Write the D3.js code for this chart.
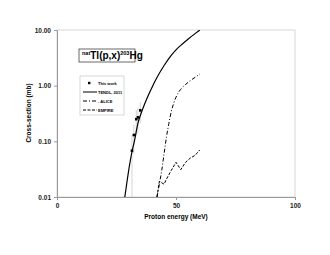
<!DOCTYPE html>
<html><head><meta charset="utf-8">
<script src="https://cdn.jsdelivr.net/npm/d3@7"></script>
<style>body{margin:0;background:#fff}svg{display:block;font-family:"Liberation Sans",Arial,sans-serif}</style>
</head><body>
<script>
const xTicks=[0,50,100];
const yTicks=[0.01,0.1,1,10];
const yTickLabels=["0.01","0.10","1.00","10.00"];
const expE=[31.5,32.3,33.3,34.0,35.0];
const expS=[0.068,0.13,0.25,0.27,0.36];
const expErr=[0.062,0.07,0.12,0.13,0.15];
const tendlE=[28.5,29.5,30.5,31.5,32.5,34,36,38,40,42,45,48,50,52,55,58,60];
const tendlS=[0.01,0.02,0.038,0.065,0.1,0.21,0.38,0.62,0.95,1.4,2.3,3.5,4.4,5.3,6.8,8.6,10];
const aliceE=[42,43,44,45,46,47,48,49,50,51,52,53,54,56,58,60];
const aliceS=[0.01,0.017,0.03,0.06,0.12,0.21,0.34,0.48,0.62,0.75,0.86,0.96,1.05,1.23,1.41,1.62];
const empireE=[42,43,45,46,48,50,52,54,56,58,60];
const empireS=[0.01,0.019,0.017,0.021,0.03,0.042,0.031,0.042,0.05,0.056,0.07];
const legendLabels=["This work","TENDL, 2011","- ALICE","EMPIRE"];

const W=330,H=255;
const svg=d3.select("body").append("svg").attr("width",W).attr("height",H);
const x=d3.scaleLinear().domain([0,100]).range([57,295]);
const y=d3.scaleLog().domain([0.01,10]).range([197,30]);

svg.append("rect").attr("x",57).attr("y",30).attr("width",238).attr("height",167)
  .attr("fill","none").attr("stroke","#d8d8d8").attr("stroke-width",1);

const xa=svg.append("g").attr("transform","translate(0,197)")
  .call(d3.axisBottom(x).tickValues(xTicks).tickSize(3).tickPadding(3).tickFormat(d3.format("d")));
const ya=svg.append("g").attr("transform","translate(57,0)")
  .call(d3.axisLeft(y).tickValues(yTicks).tickSize(3).tickPadding(3).tickFormat((d,i)=>yTickLabels[i]));
[xa,ya].forEach(g=>{
  g.selectAll("path,line").attr("stroke","#999");
  g.selectAll("text").attr("font-size","6.5px").attr("font-weight","bold").attr("fill","#222")
   .attr("font-family","'Liberation Sans',Arial,sans-serif");
});

svg.append("clipPath").attr("id","c").append("rect").attr("x",57).attr("y",30).attr("width",238).attr("height",167);
const line=d3.line().x(d=>x(d[0])).y(d=>y(d[1])).curve(d3.curveMonotoneX);
const g=svg.append("g").attr("clip-path","url(#c)");

expE.forEach((e,i)=>{
  g.append("line").attr("x1",x(e)).attr("x2",x(e)).attr("y1",y(Math.max(expS[i]-expErr[i],0.001))).attr("y2",y(expS[i]+expErr[i]))
   .attr("stroke","#bbb").attr("stroke-width",0.6);
});
g.append("path").datum(tendlE.map((e,i)=>[e,tendlS[i]])).attr("d",line)
  .attr("fill","none").attr("stroke","#000").attr("stroke-width",1.2);
g.append("path").datum(aliceE.map((e,i)=>[e,aliceS[i]])).attr("d",line)
  .attr("fill","none").attr("stroke","#000").attr("stroke-width",1).attr("stroke-dasharray","4,2,1,2");
g.append("path").datum(empireE.map((e,i)=>[e,empireS[i]])).attr("d",d3.line().x(d=>x(d[0])).y(d=>y(d[1])))
  .attr("fill","none").attr("stroke","#000").attr("stroke-width",1).attr("stroke-dasharray","3,1.5");
expE.forEach((e,i)=>{
  g.append("rect").attr("x",x(e)-1.3).attr("y",y(expS[i])-1.3).attr("width",2.6).attr("height",2.6).attr("fill","#000");
});

const tb=svg.append("g");
tb.append("rect").attr("x",79).attr("y",49).attr("width",56).attr("height",13).attr("fill","#fff").attr("stroke","#444").attr("stroke-width",0.8);
const tt=tb.append("text").attr("x",82).attr("y",59).attr("font-size","10px").attr("font-weight","bold").attr("fill","#000");
tt.append("tspan").attr("font-size","5.5px").attr("dy","-4").text("nat");
tt.append("tspan").attr("dy","4").text("Tl(p,x)");
tt.append("tspan").attr("font-size","5.5px").attr("dy","-4").text("203");
tt.append("tspan").attr("dy","4").text("Hg");

const lg=svg.append("g");
lg.append("rect").attr("x",80).attr("y",76).attr("width",44).attr("height",39).attr("fill","#fff").attr("stroke","#ccc").attr("stroke-width",0.8);
const ly=[83,92,101,110];
const styles=[null,"none","4,2,1,2","3,1.5"];
ly.forEach((yy,i)=>{
  if(i===0){
    lg.append("rect").attr("x",88).attr("y",yy-1.2).attr("width",2.4).attr("height",2.4).attr("fill","#000");
  } else {
    lg.append("line").attr("x1",83).attr("x2",97).attr("y1",yy).attr("y2",yy).attr("stroke","#000").attr("stroke-width",1)
      .attr("stroke-dasharray",styles[i]==="none"?null:styles[i]);
  }
  lg.append("text").attr("x",98).attr("y",yy+1.5).attr("font-size","4px").attr("font-weight","bold").text(legendLabels[i]);
});

svg.append("text").attr("x",176).attr("y",219).attr("text-anchor","middle").attr("font-size","6.5px").attr("font-weight","bold").text("Proton energy (MeV)");
svg.append("text").attr("transform","translate(31,113) rotate(-90)").attr("text-anchor","middle").attr("font-size","6.5px").attr("font-weight","bold").text("Cross-section (mb)");
</script>
</body></html>
